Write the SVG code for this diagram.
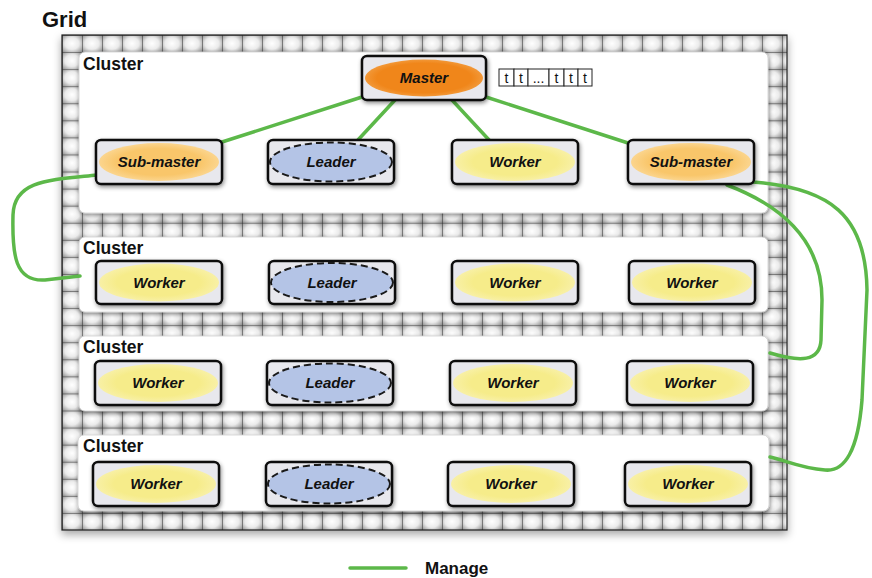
<svg xmlns="http://www.w3.org/2000/svg" width="872" height="578" viewBox="0 0 872 578">
<defs>
<radialGradient id="cellg" cx="0.5" cy="0.5" r="0.7">
<stop offset="0" stop-color="#ffffff"/>
<stop offset="0.5" stop-color="#ebebeb"/>
<stop offset="1" stop-color="#8a8a8a"/>
</radialGradient>
<pattern id="gridp" patternUnits="userSpaceOnUse" x="62" y="35" width="20" height="17.07">
<rect x="0" y="0" width="20" height="17.07" fill="url(#cellg)"/>
<path d="M0 0 H20 M0 0 V17.07" stroke="#2a2a2a" stroke-width="1" fill="none"/>
</pattern>
<filter id="sh" x="-10%" y="-20%" width="120%" height="150%">
<feDropShadow dx="1" dy="2" stdDeviation="2" flood-color="#000" flood-opacity="0.45"/>
</filter>
<filter id="gsh" x="-5%" y="-5%" width="110%" height="110%">
<feDropShadow dx="0" dy="4" stdDeviation="4" flood-color="#000" flood-opacity="0.35"/>
</filter>
<radialGradient id="wk" cx="0.5" cy="0.5" r="0.5">
<stop offset="0.7" stop-color="#f6ec8a"/>
<stop offset="1" stop-color="#f8f0a6"/>
</radialGradient>
<radialGradient id="sm" cx="0.5" cy="0.5" r="0.5">
<stop offset="0.7" stop-color="#f9c66a"/>
<stop offset="1" stop-color="#fbd58e"/>
</radialGradient>
<radialGradient id="ms" cx="0.5" cy="0.5" r="0.5">
<stop offset="0.8" stop-color="#f0861a"/>
<stop offset="1" stop-color="#f29838"/>
</radialGradient>
</defs>
<style>
.lbl{font-family:"Liberation Sans",Arial,sans-serif;font-weight:bold;fill:#111}
.box{fill:#e8e8ed;stroke:#111;stroke-width:2.5}
.nt{font-family:"Liberation Sans",Arial,sans-serif;font-weight:bold;font-style:italic;font-size:15px;fill:#111;text-anchor:middle}
.cl{fill:#ffffff;stroke:#cfcfcf;stroke-width:0.8}
.con{fill:none;stroke:#5cb849;stroke-width:3.5;stroke-linecap:round}
.ld{fill:#b4c4e6;stroke:#1a1a1a;stroke-width:2;stroke-dasharray:7 4}
.tc{fill:#fff;stroke:#222;stroke-width:1}
.tt{font-family:"Liberation Sans",Arial,sans-serif;font-size:14px;fill:#111;text-anchor:middle}
</style>
<rect width="872" height="578" fill="#ffffff"/>
<text class="lbl" x="42" y="27" font-size="22">Grid</text>
<g id="grid">
<rect x="62" y="35" width="725" height="495" fill="url(#gridp)" stroke="#222" stroke-width="1.2" filter="url(#gsh)"/>
</g>
<g id="clusters">
<g id="cluster1"><rect class="cl" x="79" y="52" width="689" height="161" rx="6" filter="url(#sh)"/><text class="lbl" x="83" y="70" font-size="17.5">Cluster</text></g>
<g id="cluster2"><rect class="cl" x="79" y="237" width="689" height="75" rx="6" filter="url(#sh)"/><text class="lbl" x="83" y="254" font-size="17.5">Cluster</text></g>
<g id="cluster3"><rect class="cl" x="79" y="336" width="689" height="75" rx="6" filter="url(#sh)"/><text class="lbl" x="83" y="353" font-size="17.5">Cluster</text></g>
<g id="cluster4"><rect class="cl" x="78" y="435" width="691" height="76" rx="6" filter="url(#sh)"/><text class="lbl" x="83" y="452" font-size="17.5">Cluster</text></g>
</g>
<g id="connectors">
<path class="con" d="M362 97 L222 142"/>
<path class="con" d="M395 100 L357 141"/>
<path class="con" d="M452 100 L490 141"/>
<path class="con" d="M486 97 L628 143"/>
<path class="con" d="M97 175 C50 180 14 180 13 215 C12 255 15 282 45 280 L80 276"/>
<path class="con" d="M727 185 C780 205 822 240 822 300 L821 340 C820 362 800 362 770 353"/>
<path class="con" d="M753 182 C830 188 866 215 867 290 L862 400 C858 450 845 472 825 470 C800 468 785 460 770 457"/>
</g>
<g id="master"><rect class="box" x="362" y="56" width="124" height="44" rx="5" filter="url(#sh)"/><ellipse cx="424" cy="78" rx="59" ry="18.5" fill="url(#ms)"/><text class="nt" x="424" y="83">Master</text></g>
<g id="tasks">
<rect class="tc" x="499" y="69" width="15" height="17"/><text class="tt" x="506.5" y="83">t</text>
<rect class="tc" x="514" y="69" width="14" height="17"/><text class="tt" x="521" y="83">t</text>
<rect class="tc" x="528" y="69" width="21" height="17"/><text class="tt" x="538.5" y="83" font-size="11">...</text>
<rect class="tc" x="549" y="69" width="15" height="17"/><text class="tt" x="556.5" y="83">t</text>
<rect class="tc" x="564" y="69" width="14" height="17"/><text class="tt" x="571" y="83">t</text>
<rect class="tc" x="578" y="69" width="14" height="17"/><text class="tt" x="585" y="83">t</text>
</g>
<g id="r1submaster1"><rect class="box" x="96" y="140" width="126" height="44" rx="5" filter="url(#sh)"/><ellipse cx="159" cy="162" rx="60" ry="19" fill="url(#sm)"/><text class="nt" x="159" y="167">Sub-master</text></g>
<g id="r1leader"><rect class="box" x="268" y="140" width="126" height="44" rx="5" filter="url(#sh)"/><ellipse class="ld" cx="331" cy="162" rx="61" ry="19.5"/><text class="nt" x="331" y="167">Leader</text></g>
<g id="r1worker"><rect class="box" x="452" y="140" width="126" height="44" rx="5" filter="url(#sh)"/><ellipse cx="515" cy="162" rx="60" ry="19" fill="url(#wk)"/><text class="nt" x="515" y="167">Worker</text></g>
<g id="r1submaster2"><rect class="box" x="628" y="140" width="126" height="44" rx="5" filter="url(#sh)"/><ellipse cx="691" cy="162" rx="60" ry="19" fill="url(#sm)"/><text class="nt" x="691" y="167">Sub-master</text></g>
<g id="r2worker1"><rect class="box" x="96" y="261" width="126" height="43" rx="5" filter="url(#sh)"/><ellipse cx="159" cy="282.5" rx="60" ry="19" fill="url(#wk)"/><text class="nt" x="159" y="287.5">Worker</text></g>
<g id="r2leader"><rect class="box" x="269" y="261" width="126" height="43" rx="5" filter="url(#sh)"/><ellipse class="ld" cx="332" cy="282.5" rx="61" ry="19.5"/><text class="nt" x="332" y="287.5">Leader</text></g>
<g id="r2worker2"><rect class="box" x="452" y="261" width="126" height="43" rx="5" filter="url(#sh)"/><ellipse cx="515" cy="282.5" rx="60" ry="19" fill="url(#wk)"/><text class="nt" x="515" y="287.5">Worker</text></g>
<g id="r2worker3"><rect class="box" x="629" y="261" width="126" height="43" rx="5" filter="url(#sh)"/><ellipse cx="692" cy="282.5" rx="60" ry="19" fill="url(#wk)"/><text class="nt" x="692" y="287.5">Worker</text></g>
<g id="r3worker1"><rect class="box" x="95" y="361" width="126" height="44" rx="5" filter="url(#sh)"/><ellipse cx="158" cy="383" rx="60" ry="19" fill="url(#wk)"/><text class="nt" x="158" y="388">Worker</text></g>
<g id="r3leader"><rect class="box" x="267" y="361" width="126" height="44" rx="5" filter="url(#sh)"/><ellipse class="ld" cx="330" cy="383" rx="61" ry="19.5"/><text class="nt" x="330" y="388">Leader</text></g>
<g id="r3worker2"><rect class="box" x="450" y="361" width="126" height="44" rx="5" filter="url(#sh)"/><ellipse cx="513" cy="383" rx="60" ry="19" fill="url(#wk)"/><text class="nt" x="513" y="388">Worker</text></g>
<g id="r3worker3"><rect class="box" x="627" y="361" width="126" height="44" rx="5" filter="url(#sh)"/><ellipse cx="690" cy="383" rx="60" ry="19" fill="url(#wk)"/><text class="nt" x="690" y="388">Worker</text></g>
<g id="r4worker1"><rect class="box" x="93" y="462" width="126" height="44" rx="5" filter="url(#sh)"/><ellipse cx="156" cy="484" rx="60" ry="19" fill="url(#wk)"/><text class="nt" x="156" y="489">Worker</text></g>
<g id="r4leader"><rect class="box" x="266" y="462" width="126" height="44" rx="5" filter="url(#sh)"/><ellipse class="ld" cx="329" cy="484" rx="61" ry="19.5"/><text class="nt" x="329" y="489">Leader</text></g>
<g id="r4worker2"><rect class="box" x="448" y="462" width="126" height="44" rx="5" filter="url(#sh)"/><ellipse cx="511" cy="484" rx="60" ry="19" fill="url(#wk)"/><text class="nt" x="511" y="489">Worker</text></g>
<g id="r4worker3"><rect class="box" x="625" y="462" width="126" height="44" rx="5" filter="url(#sh)"/><ellipse cx="688" cy="484" rx="60" ry="19" fill="url(#wk)"/><text class="nt" x="688" y="489">Worker</text></g>
<g id="legend">
<line class="con" x1="350" y1="568" x2="406" y2="568"/>
<text class="lbl" x="425" y="574" font-size="17">Manage</text>
</g>
</svg>
